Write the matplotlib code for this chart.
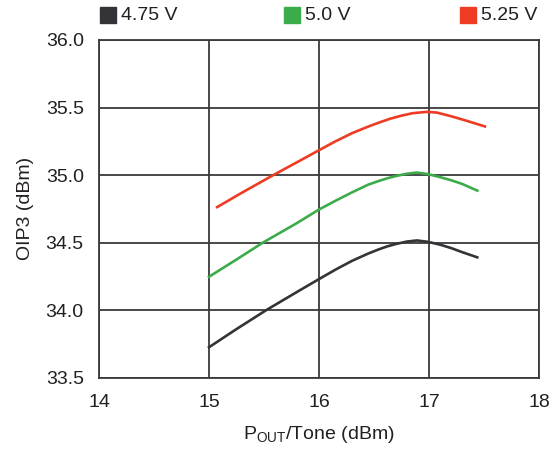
import matplotlib
matplotlib.use("Agg")
import matplotlib.pyplot as plt
from matplotlib.patches import Rectangle

plt.rcParams["font.family"] = ["Liberation Sans", "DejaVu Sans"]
plt.rcParams["mathtext.fontset"] = "custom"
plt.rcParams["mathtext.rm"] = "Liberation Sans"

# data
x_475 = [14.99, 15.25, 15.52, 15.8, 16.0, 16.15, 16.3, 16.45, 16.55, 16.62, 16.7, 16.8, 16.89,
         16.99, 17.1, 17.2, 17.3, 17.45]
y_475 = [33.72, 33.86, 34.00, 34.135, 34.23, 34.30, 34.365, 34.42, 34.452, 34.472, 34.49, 34.508, 34.516,
         34.506, 34.485, 34.46, 34.43, 34.388]

x_50 = [14.99, 15.25, 15.49, 15.8, 16.0, 16.15, 16.3, 16.45, 16.55, 16.62, 16.7, 16.8, 16.89,
        16.99, 17.1, 17.2, 17.3, 17.45]
y_50 = [34.242, 34.375, 34.50, 34.645, 34.745, 34.81, 34.872, 34.93, 34.958, 34.976, 34.993, 35.01, 35.019,
        35.007, 34.985, 34.962, 34.935, 34.881]

x_525 = [15.064, 15.3, 15.585, 15.8, 16.0, 16.15, 16.3, 16.45, 16.55, 16.65, 16.75, 16.85, 16.98,
         17.07, 17.2, 17.35, 17.52]
y_525 = [34.758, 34.87, 35.0, 35.095, 35.184, 35.25, 35.31, 35.36, 35.39, 35.418, 35.44, 35.458, 35.468,
         35.463, 35.436, 35.40, 35.357]

series = [("4.75 V", x_475, y_475, "#333338"),
          ("5.0 V", x_50, y_50, "#3cab4a"),
          ("5.25 V", x_525, y_525, "#ee3b24")]

xticks = [14, 15, 16, 17, 18]
yticks = [33.5, 34.0, 34.5, 35.0, 35.5, 36.0]

fig = plt.figure(figsize=(5.6, 4.58), dpi=100)
ax = fig.add_axes([99 / 560, 1 - 377.7 / 458, 440 / 560, 337.7 / 458])

for label, xs, ys, c in series:
    ax.plot(xs, ys, color=c, lw=1.9, solid_capstyle="butt", solid_joinstyle="round", zorder=3)

ax.set_xlim(14, 18)
ax.set_ylim(33.5, 36.0)
ax.set_xticks(xticks)
ax.set_yticks(yticks)
ax.set_xticklabels([str(t) for t in xticks])
ax.set_yticklabels([f"{t:.1f}" for t in yticks])
ax.tick_params(length=0, labelsize=14, colors="#231f20")
ax.tick_params(axis="x", pad=12)
ax.tick_params(axis="y", pad=11)
ax.grid(True, color="#3a3a3a", lw=1.3)
for s in ax.spines.values():
    s.set_color("#3a3a3a")
    s.set_linewidth(1.3)

ax.set_xlabel(r"P$_{\mathregular{OUT}}$/Tone (dBm)", fontsize=14, color="#231f20", labelpad=9)
ax.set_ylabel("OIP3 (dBm)", fontsize=14, color="#231f20", labelpad=8)

# legend across the top
legend_x = [100, 284, 460]
for (label, xs, ys, c), lx in zip(series, legend_x):
    fig.patches.append(Rectangle((lx / 560, 1 - 22.5 / 458), 16 / 560, 15.5 / 458,
                                 transform=fig.transFigure, color=c, figure=fig))
    fig.text((lx + 21) / 560, 1 - 15 / 458, label, fontsize=14, color="#231f20",
             va="center", ha="left")

fig.savefig("out.png", dpi=100)
